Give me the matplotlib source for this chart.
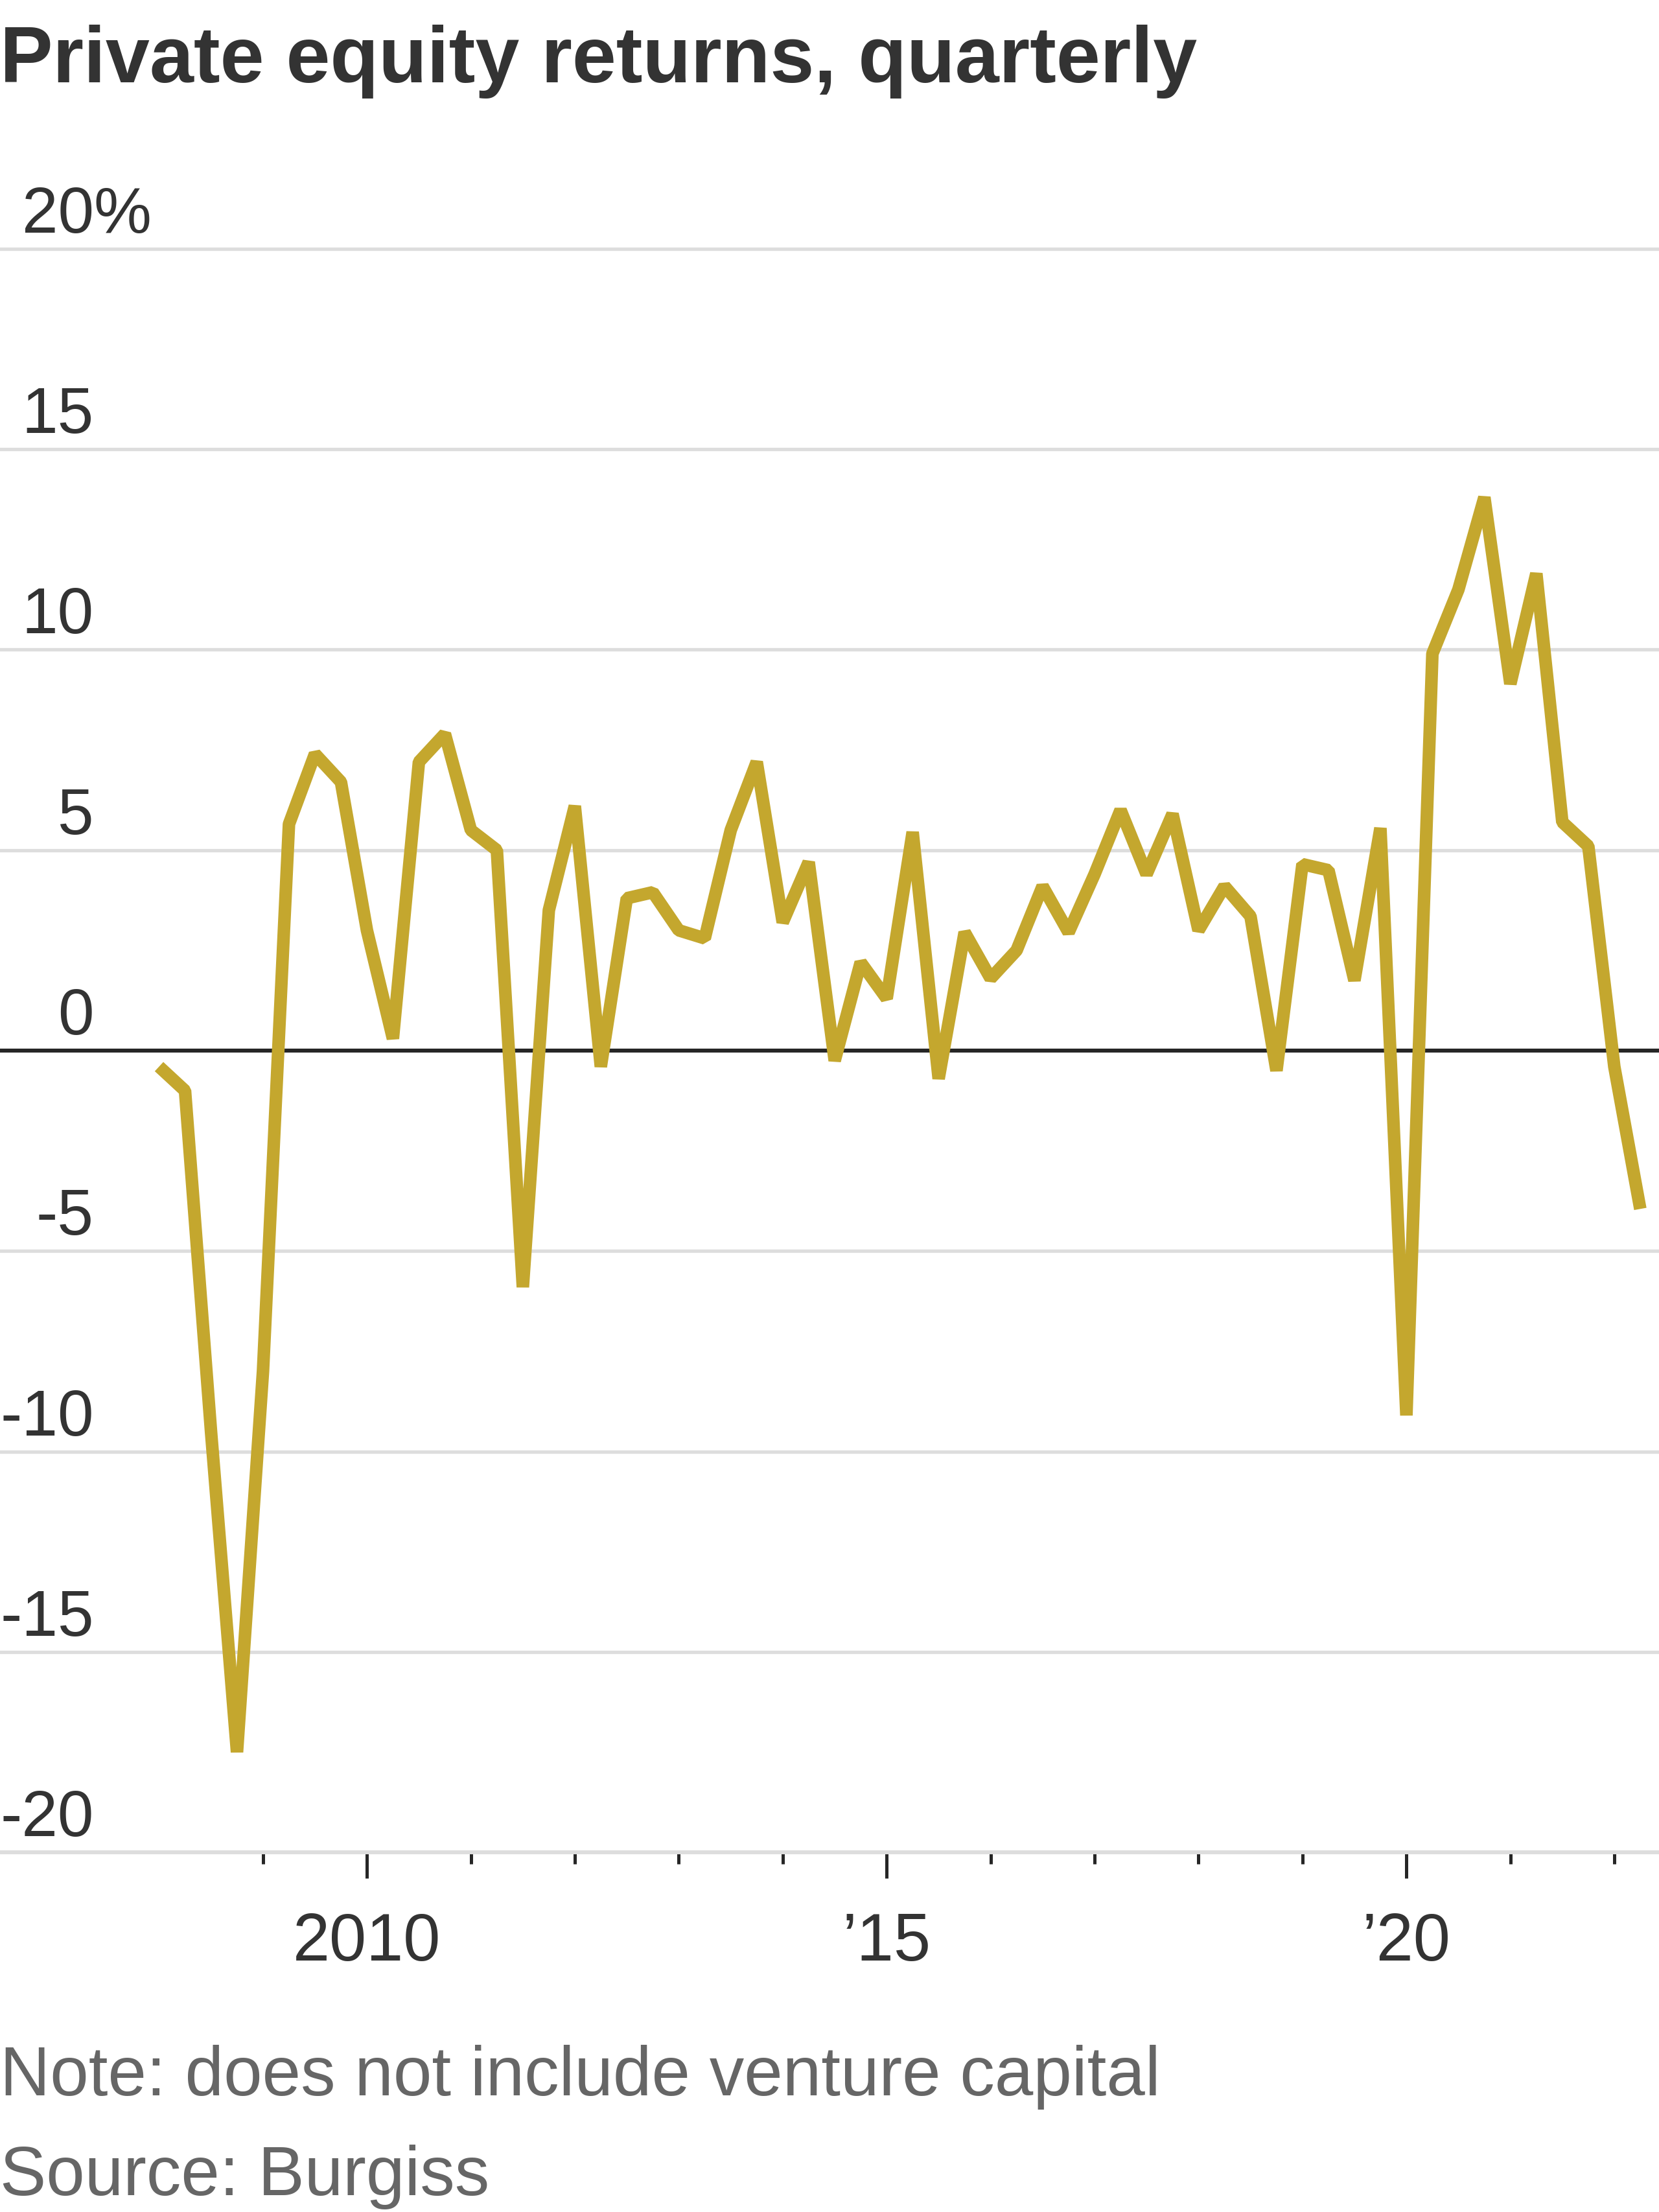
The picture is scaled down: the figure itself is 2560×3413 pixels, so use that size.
# -*- coding: utf-8 -*-
import numpy as np
import matplotlib
matplotlib.use('Agg')
import matplotlib.pyplot as plt
import matplotlib.transforms as mtransforms
from matplotlib import font_manager

# Quarterly private equity returns (%), first value is 2008 Q1.
start_year = 2008
returns = [
    -0.4, -1.0, -9.5, -17.5,   # 2008
    -8.0, 5.65, 7.4, 6.7,      # 2009
    3.0, 0.3, 7.2, 7.9,        # 2010
    5.5, 5.0, -5.9, 3.5,       # 2011
    6.1, -0.4, 3.8, 3.95,      # 2012
    3.0, 2.8, 5.5, 7.2,        # 2013
    3.2, 4.7, -0.25, 2.2,      # 2014
    1.3, 5.45, -0.7, 2.95,     # 2015
    1.8, 2.5, 4.1, 2.95,       # 2016
    4.4, 6.0, 4.4, 5.9,        # 2017
    3.0, 4.1, 3.35, -0.5,      # 2018
    4.65, 4.5, 1.75, 5.55,     # 2019
    -9.1, 9.9, 11.5, 13.8,     # 2020
    9.15, 11.9, 5.7, 5.1,      # 2021
    -0.4, -3.95,               # 2022
]

# Axis ticks and labels.
y_ticks = [20, 15, 10, 5, 0, -5, -10, -15, -20]
y_tick_labels = ['20', '15', '10', '5', '0', '-5', '-10', '-15', '-20']
x_major = [2010, 2015, 2020]
x_major_labels = ['2010', u'\u201915', u'\u201920']
x_minor = [2009, 2011, 2012, 2013, 2014, 2016, 2017, 2018, 2019, 2021, 2022]

title = 'Private equity returns, quarterly'
note = 'Note: does not include venture capital'
source = 'Source: Burgiss'

# Pick fonts (narrow one for the axis numbers if it is there).
names = set(f.name for f in font_manager.fontManager.ttflist)
regular = 'Liberation Sans' if 'Liberation Sans' in names else 'DejaVu Sans'
if 'Liberation Sans Narrow' in names:
    narrow, ysize, xsize = 'Liberation Sans Narrow', 40.7, 40.7
else:
    narrow, ysize, xsize = regular, 36, 37

dark = '#333333'
gold = '#c4a72e'

# Figure and axes.
fig = plt.figure(figsize=(12.8, 17.065), dpi=200)
ax = fig.add_axes([0, 0.1626, 1, 0.8875 - 0.1626])

# Plot data.
x = start_year + np.arange(len(returns)) / 4.0
ax.plot(x, returns, color=gold, lw=7.0, solid_joinstyle='bevel',
        solid_capstyle='butt', zorder=4)

ax.set_xlim(2006.47, 2022.43)
ax.set_ylim(-20, 20)

# Gridlines and zero line.
for v in y_ticks:
    if v == 0:
        ax.axhline(v, color='#262626', lw=2.2, zorder=3)
    elif v != -20:
        ax.axhline(v, color='#dddddd', lw=1.9, zorder=1, clip_on=False)

for side in ['top', 'left', 'right']:
    ax.spines[side].set_visible(False)
ax.spines['bottom'].set_color('#dddddd')
ax.spines['bottom'].set_linewidth(2.2)

# Ticks.
ax.set_yticks([])
ax.set_xticks(x_major)
ax.set_xticks(x_minor, minor=True)
ax.tick_params(axis='x', which='major', length=14.4, width=1.8,
               color='#262626', direction='out', labelbottom=False)
ax.tick_params(axis='x', which='minor', length=6.5, width=1.8,
               color='#262626', direction='out')

# X labels.
xtrans = mtransforms.blended_transform_factory(ax.transData, fig.transFigure)
for xv, lab in zip(x_major, x_major_labels):
    ax.text(xv, 0.1137, lab, transform=xtrans, ha='center', va='baseline',
            fontsize=xsize, family=narrow, color=dark)

# Y labels sit just above their gridlines.
ytrans = mtransforms.offset_copy(
    mtransforms.blended_transform_factory(fig.transFigure, ax.transData),
    fig=fig, x=0, y=9, units='points')
label_x = 0.0565
for v, lab in zip(y_ticks, y_tick_labels):
    fig.text(label_x, v, lab, transform=ytrans, ha='right', va='baseline',
             fontsize=ysize, family=narrow, color=dark)
fig.text(label_x, 20, '%', transform=ytrans, ha='left', va='baseline',
         fontsize=ysize, family=narrow, color=dark)

# Title and notes.
fig.text(0, 0.9628, title, fontsize=44, fontweight='bold', family=regular,
         color=dark, va='baseline')
fig.text(0, 0.0526, note, fontsize=38.5, family=regular, color='#666666',
         va='baseline')
fig.text(0, 0.0077, source, fontsize=38.5, family=regular, color='#666666',
         va='baseline')

fig.savefig('out.png', dpi=200)
